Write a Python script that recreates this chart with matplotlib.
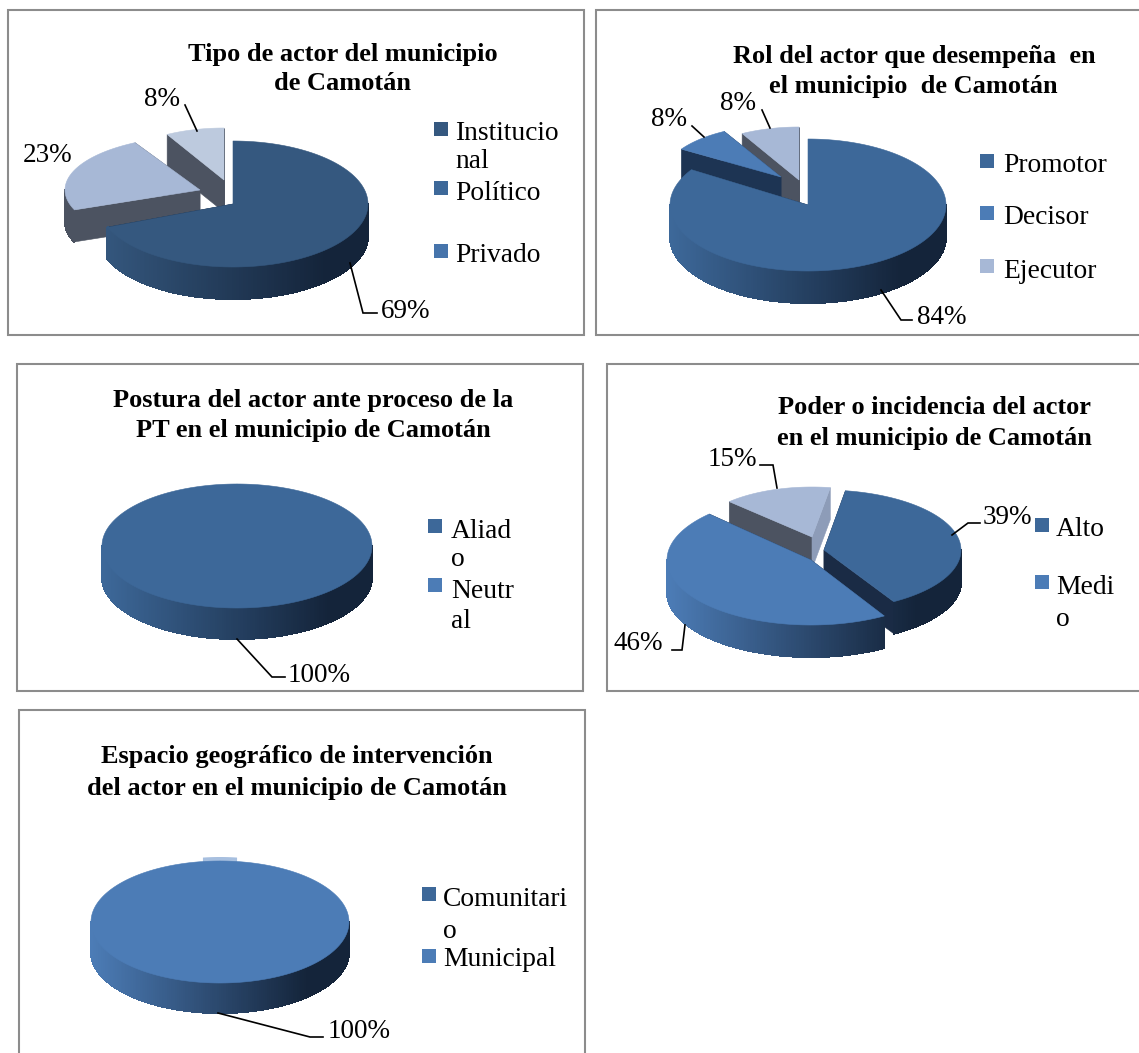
import numpy as np
import matplotlib
matplotlib.use('Agg')
import matplotlib.pyplot as plt
from matplotlib.colors import to_rgb
from matplotlib.patches import Polygon, Rectangle

plt.rcParams['font.family'] = ['Liberation Serif', 'DejaVu Serif']

# data
tipo_labels = ['Institucio\nnal', 'Político', 'Privado']
tipo_values = [69, 23, 8]
rol_labels = ['Promotor', 'Decisor', 'Ejecutor']
rol_values = [84, 8, 8]
postura_labels = ['Aliad\no', 'Neutr\nal']
postura_values = [100, 0]
poder_labels = ['Alto', 'Medi\no']
poder_values = [39, 46, 15]
espacio_labels = ['Comunitari\no', 'Municipal']
espacio_values = [0, 100]

DARK = '#14243a'
BLUE1 = '#3d6899'
BLUE2 = '#4c7cb6'
LIGHT = '#a7b8d6'
GREY = '#4c5361'

# layout, everything in pixels of the 1139x1053 picture
panels = [
    dict(frame=(8, 10, 584, 335),
         title=['Tipo de actor del municipio', 'de Camotán'], title_xy=[(343, 54), (343, 84)],
         values=tipo_values, labels=tipo_labels, start=0, depth=32,
         centers=[(233, 204), (200, 190), (224, 180)],
         radii=[(135, 63), (135, 54), (118, 52)],
         tops=['#35587f', LIGHT, '#bdcade'], faces=[(DARK, DARK), (GREY, GREY), (GREY, GREY)],
         order=[2, 1, 0],
         legend_colors=['#35587f', BLUE1, '#4674ab'], legend_y=[129, 188, 251], legend_x=434,
         legend_text=[(455, [133, 162]), (455, [194]), (455, [256])],
         pct_xy=[(406, 311), (48, 156), (162, 99)],
         leaders=[[(350, 263), (363, 313), (377, 313)], None, [(185, 105), (197, 131)]]),
    dict(frame=(596, 10, 1160, 335),
         title=['Rol del actor que desempeña  en', 'el municipio  de Camotán'], title_xy=[(914, 56), (913, 86)],
         values=rol_values, labels=rol_labels, start=0, depth=32,
         centers=[(808, 205), (781, 177), (799, 180)],
         radii=[(138, 66), (118, 52), (118, 53)],
         tops=[BLUE1, BLUE2, LIGHT], faces=[(DARK, DARK), ('#1d3453', '#1d3453'), (GREY, GREY)],
         order=[2, 1, 0],
         legend_colors=[BLUE1, BLUE2, LIGHT], legend_y=[161, 213, 266], legend_x=980,
         legend_text=[(1003, [165]), (1003, [218]), (1003, [271])],
         pct_xy=[(942, 318), (669, 119), (738, 103)],
         leaders=[[(881, 290), (901, 320), (912, 320)], [(692, 126), (704, 137)], [(762, 110), (770, 128)]]),
    dict(frame=(17, 364, 583, 691),
         title=['Postura del actor ante proceso de la', 'PT en el municipio de Camotán'], title_xy=[(313, 400), (313, 430)],
         values=postura_values, labels=postura_labels, start=0, depth=31,
         centers=[(237, 546), (237, 546)],
         radii=[(135, 62), (135, 62)],
         tops=[BLUE1, BLUE2], faces=[(DARK, DARK), (DARK, DARK)],
         order=[1, 0],
         legend_colors=[BLUE1, BLUE2], legend_y=[526, 585], legend_x=428,
         legend_text=[(451, [531, 560]), (451, [592, 621])],
         pct_xy=[(319, 676), None],
         leaders=[[(237, 639), (272, 677), (285, 677)], None]),
    dict(frame=(607, 364, 1160, 691),
         title=['Poder o incidencia del actor', 'en el municipio de Camotán'], title_xy=[(934, 408), (934, 438)],
         values=poder_values, labels=poder_labels, start=9, depth=32,
         centers=[(824, 550), (811, 560), (812, 537)],
         radii=[(137, 60), (144, 65), (117, 50)],
         tops=[BLUE1, BLUE2, LIGHT], faces=[('#1a2b45', '#1a2b45'), (DARK, DARK), (GREY, '#8d9cb8')],
         order=[2, 0, 1],
         legend_colors=[BLUE1, BLUE2], legend_y=[525, 582], legend_x=1035,
         legend_text=[(1056, [530]), (1056, [587, 619])],
         pct_xy=[(1007, 518), (638, 644), (732, 459)],
         leaders=[[(952, 535), (968, 523), (980, 523)], [(672, 650), (682, 650), (685, 625)],
                  [(760, 465), (773, 465), (777, 488)]]),
    dict(frame=(19, 710, 585, 1075),
         title=['Espacio geográfico de intervención', 'del actor en el municipio de Camotán'], title_xy=[(297, 757), (297, 788)],
         values=espacio_values, labels=espacio_labels, start=0, depth=30,
         centers=[(220, 922), (220, 922)],
         radii=[(129, 61), (129, 61)],
         tops=[BLUE1, BLUE2], faces=[(DARK, DARK), (DARK, DARK)],
         order=[0, 1],
         legend_colors=[BLUE1, BLUE2], legend_y=[894, 956], legend_x=422,
         legend_text=[(443, [899, 931]), (443, [960])],
         pct_xy=[None, (359, 1031)],
         leaders=[None, [(218, 1013), (310, 1037), (323, 1037)]], sliver='#a7bfdf'),
]


def ellipse_pts(center, radii, a0, a1, n=None):
    # angles in degrees, clockwise from north, y axis points down
    n = n or max(2, int(abs(a1 - a0)) + 2)
    a = np.radians(np.linspace(a0, a1, n))
    return np.column_stack([center[0] + radii[0] * np.sin(a), center[1] - radii[1] * np.cos(a)])


def side_color(top, t):
    base = np.array(to_rgb(top))
    dark = np.array(to_rgb(DARK))
    return base + (dark - base) * min(1, t * 1.2)


def draw_slice(ax, center, radii, a0, a1, depth, top, faces):
    cx, cy = center
    rx, ry = radii
    p0 = ellipse_pts(center, radii, a0, a0, 1)[0]
    p1 = ellipse_pts(center, radii, a1, a1, 1)[0]
    for p, col in zip((p0, p1), faces):
        quad = [(cx, cy), p, (p[0], p[1] + depth), (cx, cy + depth)]
        ax.add_patch(Polygon(quad, fc=col, ec=col, lw=0.4))
    # outer wall, only the front half shows
    lo, hi = max(a0, 90), min(a1, 270)
    if hi > lo:
        steps = np.arange(lo, hi, 1.0)
        for a in steps:
            b = min(a + 1.0, hi)
            arc = ellipse_pts(center, radii, a, b, 3)
            strip = np.vstack([arc, arc[::-1] + [0, depth]])
            t = (arc[:, 0].mean() - (cx - rx)) / (2 * rx)
            col = side_color(top, t)
            if top == LIGHT or top == '#bdcade':
                col = to_rgb(GREY)
            ax.add_patch(Polygon(strip, fc=col, ec=col, lw=0.8, antialiased=False))
    outline = np.vstack([[center], ellipse_pts(center, radii, a0, a1)])
    ax.add_patch(Polygon(outline, fc=top, ec=top, lw=0.4))


def draw_panel(ax, p):
    x0, y0, x1, y1 = p['frame']
    ax.add_patch(Rectangle((x0, y0), x1 - x0, y1 - y0, fc='white', ec='#8c8c8c', lw=1.5))
    for line, (tx, ty) in zip(p['title'], p['title_xy']):
        ax.text(tx, ty, line, ha='center', va='center', fontsize=19, fontweight='bold', color='black')

    vals = np.array(p['values'], dtype=float)
    edges = p['start'] + np.concatenate([[0], np.cumsum(vals / vals.sum() * 360)])
    if 'sliver' in p:
        cx, cy = p['centers'][0]
        rx, ry = p['radii'][0]
        arc = ellipse_pts((cx, cy), (rx, ry + 4), -7.6, 7.6)
        ax.add_patch(Polygon(np.vstack([arc, arc[::-1] + [0, 8]]), fc=p['sliver'], ec='none'))
    for i in p['order']:
        if vals[i] == 0:
            continue
        draw_slice(ax, p['centers'][i], p['radii'][i], edges[i], edges[i + 1],
                   p['depth'], p['tops'][i], p['faces'][i])

    for val, xy, leader in zip(p['values'], p['pct_xy'], p['leaders']):
        if xy is None:
            continue
        ax.text(xy[0], xy[1], f'{val}%', ha='center', va='center', fontsize=19.5, color='black')
        if leader:
            ax.plot(*zip(*leader), color='black', lw=1.2, solid_joinstyle='miter')

    size = 14
    lx = p['legend_x']
    for col, ly, label, (tx, tys) in zip(p['legend_colors'], p['legend_y'], p['labels'], p['legend_text']):
        ax.add_patch(Rectangle((lx, ly - size / 2), size, size, fc=col, ec='none'))
        for line, ty in zip(label.split('\n'), tys):
            ax.text(tx, ty, line, ha='left', va='center', fontsize=19.8, color='black')


fig = plt.figure(figsize=(11.39, 10.53), dpi=100)
ax = fig.add_axes([0, 0, 1, 1])
ax.set_xlim(0, 1139)
ax.set_ylim(1053, 0)
ax.axis('off')

for p in panels:
    draw_panel(ax, p)

fig.savefig('out.png', dpi=100, facecolor='white')
